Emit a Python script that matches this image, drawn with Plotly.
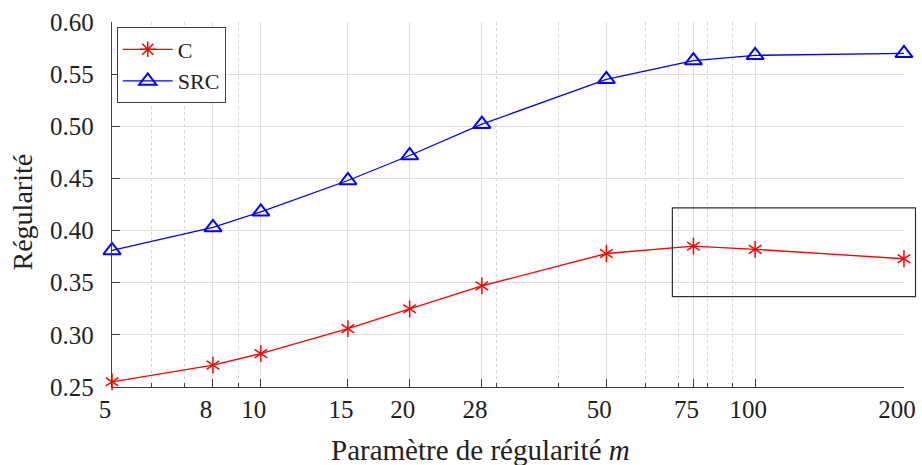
import math
import plotly.graph_objects as go

# ---- data ----
m_values = [5, 8, 10, 15, 20, 28, 50, 75, 100, 200]
c_values = [0.255, 0.271, 0.282, 0.306, 0.325, 0.347, 0.378, 0.385, 0.382, 0.373]
src_values = [0.381, 0.403, 0.418, 0.448, 0.472, 0.502, 0.545, 0.563, 0.568, 0.570]

x_tick_vals = [5, 8, 10, 15, 20, 28, 50, 75, 100, 200]
x_tick_text = ["5", "8", "10", "15", "20", "28", "50", "75", "100", "200"]
x_minor_vals = [6, 7, 9, 30, 40, 60, 70, 80, 90]
y_tick_vals = [0.25, 0.30, 0.35, 0.40, 0.45, 0.50, 0.55, 0.60]
y_tick_text = ["0.25", "0.30", "0.35", "0.40", "0.45", "0.50", "0.55", "0.60"]

x_range = [5, 200]
y_range = [0.25, 0.60]

# highlighted region (data units)
zoom_box_x = [68, 211]
zoom_box_y = [0.3366, 0.4217]

FONT = "'Liberation Serif', 'DejaVu Serif', 'Times New Roman', serif"
RED = "#ff0000"
BLUE = "#0000ff"
AXIS = "#404040"
TEXT = "#222222"

fig = go.Figure()

# legend-only entries
fig.add_trace(go.Scatter(x=[None], y=[None], name="C", mode="lines+markers",
                         line=dict(color=RED, width=1.3),
                         marker=dict(symbol="asterisk-open", size=13, color=RED,
                                     line=dict(color=RED, width=1.5))))
fig.add_trace(go.Scatter(x=[None], y=[None], name="SRC", mode="lines+markers",
                         line=dict(color=BLUE, width=1.3),
                         marker=dict(symbol="triangle-up-open", size=15, color=BLUE,
                                     line=dict(color=BLUE, width=2))))

# C series: six-ray star built from two three-ray glyphs
fig.add_trace(go.Scatter(x=m_values, y=c_values, mode="lines+markers", showlegend=False,
                         cliponaxis=False, hoverinfo="skip",
                         line=dict(color=RED, width=1.3),
                         marker=dict(symbol="y-up-open", size=10.5, color=RED,
                                     line=dict(color=RED, width=1.5))))
fig.add_trace(go.Scatter(x=m_values, y=c_values, mode="markers", showlegend=False,
                         cliponaxis=False, hoverinfo="skip",
                         marker=dict(symbol="y-down-open", size=10.5, color=RED,
                                     line=dict(color=RED, width=1.5))))

# SRC series
fig.add_trace(go.Scatter(x=m_values, y=src_values, mode="lines+markers", showlegend=False,
                         cliponaxis=False, hoverinfo="skip",
                         line=dict(color=BLUE, width=1.3),
                         marker=dict(symbol="triangle-up-open", size=15, color=BLUE,
                                     line=dict(color=BLUE, width=2))))

lx0, lx1 = math.log10(x_range[0]), math.log10(x_range[1])
EPS = 1e-4


def xp(v):
    return (math.log10(v) - lx0) / (lx1 - lx0)


def yp(v):
    return (v - y_range[0]) / (y_range[1] - y_range[0])


fig.add_shape(type="rect", xref="paper", yref="paper",
              x0=xp(zoom_box_x[0]), x1=xp(zoom_box_x[1]),
              y0=yp(zoom_box_y[0]), y1=yp(zoom_box_y[1]),
              line=dict(color="#303030", width=1.2), fillcolor="rgba(0,0,0,0)")

fig.update_layout(
    width=922, height=465,
    margin=dict(l=112, r=17.5, t=21.5, b=77.5, autoexpand=False),
    paper_bgcolor="white", plot_bgcolor="white",
    font=dict(family=FONT, size=25, color=TEXT),
    showlegend=True,
    hovermode=False,
    legend=dict(x=0.006, y=0.985, xanchor="left", yanchor="top",
                bgcolor="white", bordercolor=AXIS, borderwidth=1,
                font=dict(family=FONT, size=22, color=TEXT),
                tracegroupgap=0, itemwidth=50),
    xaxis=dict(type="log", range=[lx0 - EPS, lx1 + EPS], automargin=False,
               tickmode="array", tickvals=x_tick_vals, ticktext=x_tick_text,
               ticks="inside", ticklen=8, tickwidth=1, tickcolor=AXIS,
               ticklabelshift=-7, ticklabelstandoff=0,
               showline=True, linecolor=AXIS, linewidth=1.2,
               showgrid=True, gridcolor="#dddddd", gridwidth=1,
               zeroline=False,
               minor=dict(tickmode="array", tickvals=x_minor_vals,
                          ticks="inside", ticklen=4, tickcolor=AXIS,
                          showgrid=True, gridcolor="#d6d6d6", griddash="dot",
                          gridwidth=1.2)),
    yaxis=dict(range=y_range, automargin=False,
               tickmode="array", tickvals=y_tick_vals, ticktext=y_tick_text,
               ticks="inside", ticklen=8, tickwidth=1, tickcolor=AXIS,
               ticklabelstandoff=12,
               showline=True, linecolor=AXIS, linewidth=1.2,
               showgrid=True, gridcolor="#dddddd", gridwidth=1,
               zeroline=False),
    annotations=[
        dict(text="Paramètre de régularité <i>m</i>", xref="paper", yref="paper",
             x=0.4656, y=-0.172, xanchor="center", yanchor="middle",
             showarrow=False, font=dict(family=FONT, size=29, color=TEXT)),
        dict(text="Régularité", xref="paper", yref="paper",
             x=-0.113, y=0.4795, xanchor="center", yanchor="middle", textangle=-90,
             showarrow=False, font=dict(family=FONT, size=28, color=TEXT)),
    ],
)

fig.write_html("out.html",
               config={"displayModeBar": False, "staticPlot": True},
               post_script="document.body.style.margin='0';document.body.style.overflow='hidden';")
